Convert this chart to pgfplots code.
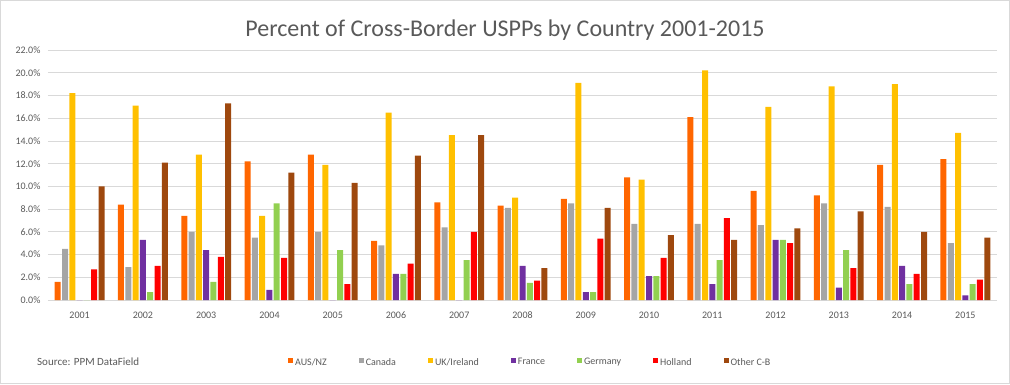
\documentclass[border=0pt]{standalone}
\usepackage{pgfplots}
\pgfplotsset{compat=1.18}
\usepackage{pgfplotstable}
\usepackage{fontspec}
\setmainfont{Carlito}
\definecolor{txt}{RGB}{89,89,89}
\definecolor{gridc}{RGB}{217,217,217}
\definecolor{causnz}{RGB}{255,102,0}
\definecolor{ccan}{RGB}{165,165,165}
\definecolor{cuk}{RGB}{255,192,0}
\definecolor{cfra}{RGB}{112,48,160}
\definecolor{cger}{RGB}{146,208,80}
\definecolor{chol}{RGB}{255,0,0}
\definecolor{coth}{RGB}{158,72,14}
\pgfplotstableread{
x aus can uk fra ger hol oth
0 1.6 4.5 18.2 0 0 2.7 10.0
1 8.4 2.9 17.1 5.3 0.7 3.0 12.1
2 7.4 6.0 12.8 4.4 1.6 3.8 17.3
3 12.2 5.5 7.4 0.9 8.5 3.7 11.2
4 12.8 6.0 11.9 0 4.4 1.4 10.3
5 5.2 4.8 16.5 2.3 2.3 3.2 12.7
6 8.6 6.4 14.5 0 3.5 6.0 14.5
7 8.3 8.1 9.0 3.0 1.5 1.7 2.8
8 8.9 8.5 19.1 0.7 0.7 5.4 8.1
9 10.8 6.7 10.6 2.1 2.1 3.7 5.7
10 16.1 6.7 20.2 1.4 3.5 7.2 5.3
11 9.6 6.6 17.0 5.3 5.3 5.0 6.3
12 9.2 8.5 18.8 1.1 4.4 2.8 7.8
13 11.9 8.2 19.0 3.0 1.4 2.3 6.0
14 12.4 5.0 14.7 0.4 1.4 1.8 5.5
}\data
\begin{document}
\begin{tikzpicture}
\useasboundingbox (0,0) rectangle (1010pt,384pt);
\draw[gridc, line width=1pt] (0.5pt,0.5pt) rectangle (1009.5pt,383.5pt);
\node[text=txt, font=\fontsize{24}{28}\selectfont] at (505pt,354pt) {Percent of Cross-Border USPPs by Country 2001-2015};
\node[text=txt, font=\fontsize{11}{13}\selectfont, anchor=west, inner sep=0pt] at (37pt,22pt) {Source: PPM DataField};
\begin{axis}[
  at={(48pt,84pt)}, anchor=south west,
  scale only axis, width=949pt, height=250pt,
  ybar=1.3pt, bar width=6pt,
  xmin=-0.5, xmax=14.5, ymin=0, ymax=22,
  xtick=data,
  xticklabels={2001,2002,2003,2004,2005,2006,2007,2008,2009,2010,2011,2012,2013,2014,2015},
  ytick={0,2,...,22},
  yticklabel={\pgfmathprintnumber[fixed,fixed zerofill,precision=1,assume math mode=true]{\tick}\%},
  ymajorgrids, grid style={gridc, line width=0.8pt},
  axis line style={draw=none},
  major tick length=0pt,
  tick label style={text=txt, font=\fontsize{10}{12}\selectfont},
  xticklabel style={yshift=-8pt},
  yticklabel style={xshift=-4pt},
  clip=false,
  legend columns=7,
  legend style={draw=none, fill=none, at={(0.2497,-0.25)}, anchor=west,
    font=\fontsize{10}{12}\selectfont, text=txt,
    /tikz/every even column/.append style={column sep=30pt}},
  legend image code/.code={\fill[#1] (0pt,-0.5pt) rectangle (5pt,4.5pt);},
]
\draw[gridc, line width=0.8pt] (axis cs:-0.5,0) -- (axis cs:14.5,0);
\addplot[fill=causnz, draw=none] table[x=x,y=aus]{\data};
\addplot[fill=ccan, draw=none] table[x=x,y=can]{\data};
\addplot[fill=cuk, draw=none] table[x=x,y=uk]{\data};
\addplot[fill=cfra, draw=none] table[x=x,y=fra]{\data};
\addplot[fill=cger, draw=none] table[x=x,y=ger]{\data};
\addplot[fill=chol, draw=none] table[x=x,y=hol]{\data};
\addplot[fill=coth, draw=none] table[x=x,y=oth]{\data};
\legend{AUS/NZ,Canada,UK/Ireland,France,Germany,Holland,Other C-B}
\end{axis}
\end{tikzpicture}
\end{document}
